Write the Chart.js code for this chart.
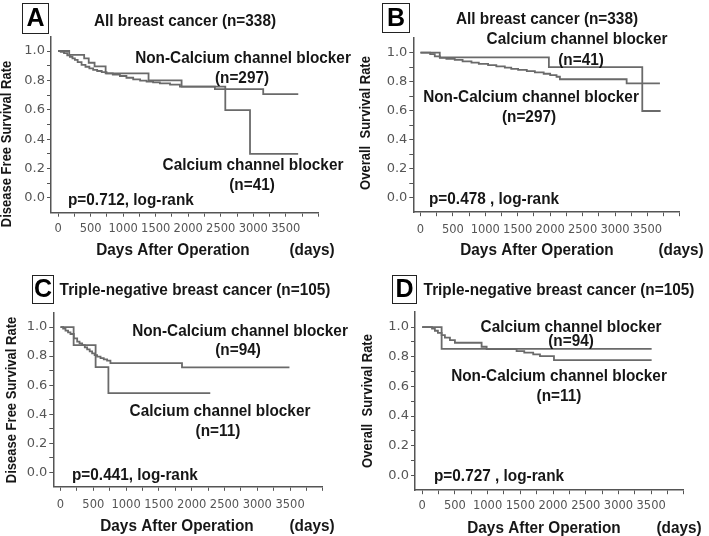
<!DOCTYPE html>
<html>
<head>
<meta charset="utf-8">
<script src="https://cdn.jsdelivr.net/npm/chart.js@4.4.1/dist/chart.umd.min.js"></script>
<style>
  html, body { margin: 0; padding: 0; background: #fff; }
  #wrap { position: relative; width: 709px; height: 536px; overflow: hidden; }
  .panel { position: absolute; }
</style>
</head>
<body>
<div id="wrap"></div>
<script>
// Kaplan-Meier curves (days after operation, survival rate)
// A: disease free survival, all breast cancer
const daysA_ccb = [0, 170, 400, 470, 560, 730, 1390, 1898, 2570, 2950, 3690];
const survA_ccb = [1, 0.973, 0.95, 0.92, 0.895, 0.848, 0.80, 0.757, 0.598, 0.30, 0.30];
const daysA_non = [0, 40, 90, 140, 180, 220, 257, 300, 360, 420, 480, 538, 600, 670, 744, 840, 949, 1050, 1154, 1260, 1360, 1460, 1564, 1720, 1872, 2410, 3153, 3692];
const survA_non = [1, 0.995, 0.985, 0.97, 0.961, 0.95, 0.939, 0.925, 0.905, 0.893, 0.882, 0.871, 0.864, 0.856, 0.848, 0.84, 0.83, 0.818, 0.807, 0.799, 0.791, 0.786, 0.78, 0.771, 0.757, 0.74, 0.707, 0.707];

// B: overall survival, all breast cancer
const daysB_ccb = [0, 298, 1980, 3420, 3703];
const survB_ccb = [1, 0.968, 0.90, 0.598, 0.598];
const daysB_non = [0, 150, 221, 300, 400, 529, 650, 787, 900, 1043, 1170, 1301, 1400, 1506, 1640, 1764, 1900, 2000, 2098, 2150, 3179, 3692];
const survB_non = [1, 0.99, 0.975, 0.965, 0.957, 0.95, 0.94, 0.931, 0.923, 0.915, 0.906, 0.897, 0.889, 0.881, 0.873, 0.865, 0.855, 0.845, 0.834, 0.817, 0.789, 0.789];

// C: disease free survival, triple-negative
const daysC_ccb = [0, 200, 535, 730, 2283];
const survC_ccb = [1, 0.875, 0.724, 0.545, 0.545];
const daysC_non = [0, 40, 76, 115, 152, 203, 254, 290, 330, 370, 406, 445, 482, 520, 558, 610, 659, 710, 761, 1852, 3490];
const survC_non = [1, 0.99, 0.975, 0.963, 0.952, 0.922, 0.899, 0.888, 0.876, 0.86, 0.846, 0.832, 0.819, 0.807, 0.796, 0.786, 0.777, 0.768, 0.752, 0.722, 0.722];

// D: overall survival, triple-negative
const daysD_ccb = [0, 297, 3507];
const survD_ccb = [1, 0.853, 0.853];
const daysD_non = [0, 150, 194, 240, 297, 347, 424, 500, 908, 985, 1443, 1560, 1697, 1800, 2014, 3507];
const survD_non = [1, 0.99, 0.975, 0.96, 0.946, 0.928, 0.912, 0.894, 0.867, 0.852, 0.838, 0.827, 0.816, 0.804, 0.777, 0.777];

const xTickLabels = ['0', '500', '1000', '1500', '2000', '2500', '3000', '3500'];
const yTickLabels = ['0.0', '0.2', '0.4', '0.6', '0.8', '1.0'];

const CURVE = '#6a6a6a';
const AXIS = '#555';
const TEXT = '#161616';
const SQUEEZE = 0.93; // the figure's lettering is a little narrower than Arial
const BOLD = 'bold 16.5px "Liberation Sans", Arial, sans-serif';
const YT = 'bold 14px "Liberation Sans", Arial, sans-serif';
const XT = 'bold 16.5px "Liberation Sans", Arial, sans-serif';
const LET = 'bold 25px "Liberation Sans", Arial, sans-serif';

const panels = [
  {
    pos: [0, 0, 354, 268], area: { l: 51, r: 318.3, t: 36.3, b: 212.7 }, xPad: 5,
    series: [[daysA_non, survA_non], [daysA_ccb, survA_ccb]],
    box: { x: 22, y: 3, w: 26, h: 30, letter: 'A' },
    texts: [
      { t: 'All breast cancer (n=338)', x: 185, y: 21, f: BOLD },
      { t: 'Disease Free Survival Rate', x: 7, y: 144, f: YT, rot: true },
      { t: 'Non-Calcium channel blocker', x: 243, y: 58, f: BOLD },
      { t: '(n=297)', x: 242, y: 78, f: BOLD },
      { t: 'Calcium channel blocker', x: 253, y: 165, f: BOLD },
      { t: '(n=41)', x: 252, y: 185, f: BOLD },
      { t: 'p=0.712, log-rank', x: 68, y: 200, f: BOLD, a: 'left' },
      { t: 'Days After Operation', x: 173, y: 250, f: XT },
      { t: '(days)', x: 312, y: 250, f: BOLD }
    ]
  },
  {
    pos: [354, 0, 355, 268], area: { l: 59.3, r: 325.9, t: 38.2, b: 212.2 }, xPad: 7,
    series: [[daysB_non, survB_non], [daysB_ccb, survB_ccb]],
    box: { x: 28, y: 3, w: 27, h: 29, letter: 'B' },
    texts: [
      { t: 'All breast cancer (n=338)', x: 193, y: 19, f: BOLD },
      { t: 'Overall  Survival Rate', x: 12, y: 123, f: YT, rot: true },
      { t: 'Calcium channel blocker', x: 223, y: 39, f: BOLD },
      { t: '(n=41)', x: 227, y: 60, f: BOLD },
      { t: 'Non-Calcium channel blocker', x: 177, y: 97, f: BOLD },
      { t: '(n=297)', x: 175, y: 117, f: BOLD },
      { t: 'p=0.478 , log-rank', x: 75, y: 199, f: BOLD, a: 'left' },
      { t: 'Days After Operation', x: 183, y: 250, f: XT },
      { t: '(days)', x: 327, y: 250, f: BOLD }
    ]
  },
  {
    pos: [0, 268, 354, 268], area: { l: 53.3, r: 322.9, t: 44.5, b: 218.8 }, xPad: 7,
    series: [[daysC_non, survC_non], [daysC_ccb, survC_ccb]],
    box: { x: 32, y: 7, w: 21, h: 28, letter: 'C' },
    texts: [
      { t: 'Triple-negative breast cancer (n=105)', x: 195, y: 22, f: BOLD },
      { t: 'Disease Free Survival Rate', x: 12, y: 132, f: YT, rot: true },
      { t: 'Non-Calcium channel blocker', x: 240, y: 63, f: BOLD },
      { t: '(n=94)', x: 238, y: 82, f: BOLD },
      { t: 'Calcium channel blocker', x: 220, y: 143, f: BOLD },
      { t: '(n=11)', x: 218, y: 163, f: BOLD },
      { t: 'p=0.441, log-rank', x: 72, y: 207, f: BOLD, a: 'left' },
      { t: 'Days After Operation', x: 177, y: 258, f: XT },
      { t: '(days)', x: 312, y: 258, f: BOLD }
    ]
  },
  {
    pos: [354, 268, 355, 268], area: { l: 61, r: 329.9, t: 44.2, b: 222.2 }, xPad: 5,
    series: [[daysD_non, survD_non], [daysD_ccb, survD_ccb]],
    box: { x: 38, y: 7, w: 24, h: 28, letter: 'D' },
    texts: [
      { t: 'Triple-negative breast cancer (n=105)', x: 205, y: 22, f: BOLD },
      { t: 'Overall  Survival Rate', x: 14, y: 133, f: YT, rot: true },
      { t: 'Calcium channel blocker', x: 217, y: 59, f: BOLD },
      { t: '(n=94)', x: 217, y: 73, f: BOLD },
      { t: 'Non-Calcium channel blocker', x: 205, y: 108, f: BOLD },
      { t: '(n=11)', x: 205, y: 128, f: BOLD },
      { t: 'p=0.727 , log-rank', x: 80, y: 208, f: BOLD, a: 'left' },
      { t: 'Days After Operation', x: 190, y: 260, f: XT },
      { t: '(days)', x: 325, y: 260, f: BOLD }
    ]
  }
];

function textPlugin(p) {
  return {
    id: 'panelText',
    afterDraw(chart) {
      const ctx = chart.ctx;
      ctx.save();
      const b = p.box;
      ctx.fillStyle = '#fff';
      ctx.fillRect(b.x, b.y, b.w, b.h);
      ctx.strokeStyle = '#222';
      ctx.lineWidth = 1;
      ctx.strokeRect(b.x + 0.5, b.y + 0.5, b.w, b.h);
      ctx.fillStyle = '#000';
      ctx.font = LET;
      ctx.textAlign = 'center';
      ctx.textBaseline = 'middle';
      ctx.fillText(b.letter, b.x + b.w / 2 + 0.5, b.y + b.h / 2 + 1.5);
      p.texts.forEach(it => {
        ctx.font = it.f;
        ctx.fillStyle = TEXT;
        ctx.textAlign = it.a || 'center';
        ctx.textBaseline = 'middle';
        ctx.save();
        ctx.translate(it.x, it.y);
        if (it.rot) ctx.rotate(-Math.PI / 2);
        ctx.scale(SQUEEZE, 1);
        ctx.fillText(it.t, 0, 0);
        ctx.restore();
      });
      ctx.restore();
    }
  };
}

const wrap = document.getElementById('wrap');
panels.forEach(p => {
  const [left, top, w, h] = p.pos;
  const div = document.createElement('div');
  div.className = 'panel';
  div.style.left = left + 'px';
  div.style.top = top + 'px';
  const canvas = document.createElement('canvas');
  canvas.width = w;
  canvas.height = h;
  canvas.style.width = w + 'px';
  canvas.style.height = h + 'px';
  div.appendChild(canvas);
  wrap.appendChild(div);

  const datasets = p.series.map(([days, surv]) => ({
    data: days.map((d, i) => ({ x: d, y: surv[i] })),
    stepped: true,
    borderColor: CURVE,
    borderWidth: 1.8,
    pointRadius: 0,
    fill: false
  }));

  new Chart(canvas.getContext('2d'), {
    type: 'line',
    data: { datasets: datasets },
    options: {
      responsive: false,
      animation: false,
      events: [],
      layout: { padding: { top: p.area.t, right: w - p.area.r, left: 0, bottom: 0 } },
      plugins: { legend: { display: false }, tooltip: { enabled: false }, title: { display: false } },
      scales: {
        x: {
          type: 'linear',
          min: -110,
          max: 4000,
          afterBuildTicks: s => { s.ticks = []; for (let v = 0; v <= 4000; v += 250) s.ticks.push({ value: v }); },
          afterFit: s => { s.height = h - p.area.b; },
          ticks: {
            autoSkip: false,
            maxRotation: 0,
            padding: p.xPad,
            color: '#555',
            font: { family: '"DejaVu Sans", Verdana, sans-serif', size: 11.5 },
            callback: v => (v % 500 === 0 && v / 500 < xTickLabels.length) ? xTickLabels[v / 500] : ''
          },
          grid: { drawOnChartArea: false, drawTicks: true, tickLength: 4, tickColor: AXIS, tickWidth: 1 },
          border: { display: true, color: AXIS, width: 1.5 }
        },
        y: {
          type: 'linear',
          min: -0.1,
          max: 1.1,
          afterBuildTicks: s => { s.ticks = []; for (let i = 0; i <= 10; i++) s.ticks.push({ value: i / 10 }); },
          afterFit: s => { s.width = p.area.l; },
          ticks: {
            autoSkip: false,
            padding: 2,
            color: '#555',
            font: { family: '"DejaVu Sans", Verdana, sans-serif', size: 13 },
            callback: v => {
              const i = Math.round(v * 10);
              return i % 2 === 0 ? yTickLabels[i / 2] : '';
            }
          },
          grid: { drawOnChartArea: false, drawTicks: true, tickLength: 4, tickColor: AXIS, tickWidth: 1 },
          border: { display: true, color: AXIS, width: 1.5 }
        }
      }
    },
    plugins: [textPlugin(p)]
  });
});
</script>
</body>
</html>
